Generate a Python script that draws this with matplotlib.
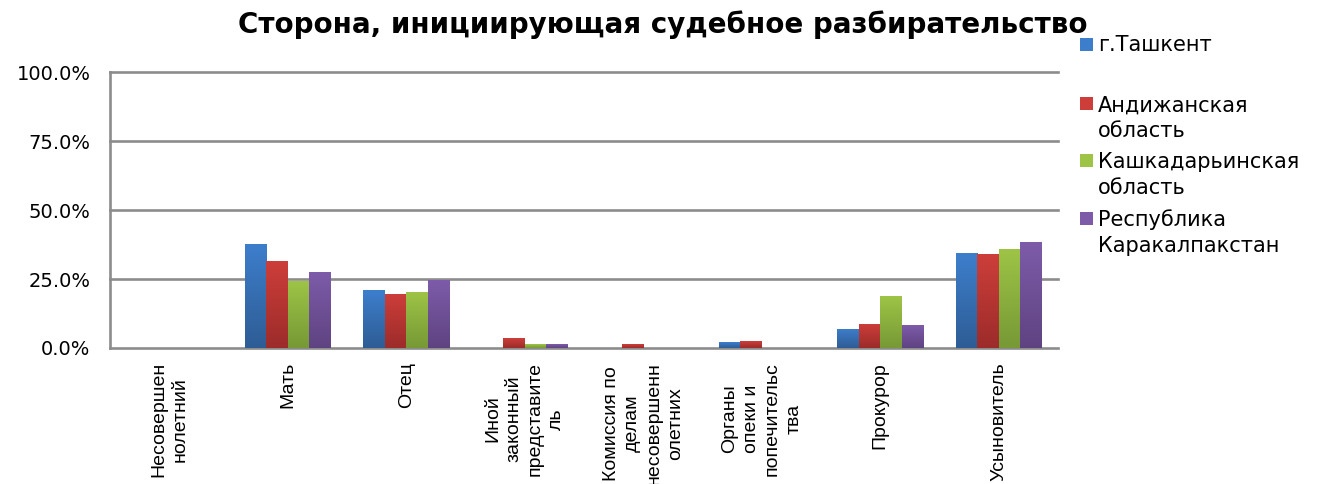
import matplotlib.pyplot as plt
import numpy as np
from matplotlib.colors import LinearSegmentedColormap
from matplotlib.patches import Rectangle

# categories (x axis) and regions (series)
categories = ["Несовершен\nнолетний", "Мать", "Отец",
              "Иной\nзаконный\nпредставите\nль",
              "Комиссия по\nделам\nнесовершенн\nолетних",
              "Органы\nопеки и\nпопечительс\nтва",
              "Прокурор", "Усыновитель"]
regions = ["г.Ташкент", "Андижанская\nобласть",
           "Кашкадарьинская\nобласть", "Республика\nКаракалпакстан"]

tashkent    = [0.0, 37.7, 21.0, 0.0, 0.0, 2.1, 6.9, 34.4]
andijan     = [0.0, 31.5, 19.6, 3.6, 1.4, 2.5, 8.7, 34.1]
kashkadarya = [0.0, 24.3, 20.3, 1.4, 0.0, 0.0, 18.8, 35.9]
karakalpak  = [0.0, 27.5, 24.6, 1.4, 0.0, 0.0, 8.3, 38.4]

yticks = [0, 25, 50, 75, 100]
title = "Сторона, инициирующая судебное разбирательство"

# (top colour, bottom colour) of each series gradient
GRADS = [("#3D7ECC", "#2E5D95"),
         ("#CD3E3A", "#9C2C2A"),
         ("#9EC446", "#779936"),
         ("#7D5BA9", "#5F4381")]
GRID = "#8C8C8C"


def main():
	series = [tashkent, andijan, kashkadarya, karakalpak]

	fig = plt.figure(figsize=(13.17, 4.84), dpi=100, facecolor='w')
	ax = fig.add_axes([0.0835, 0.281, 0.7198, 0.570])

	x = np.arange(len(categories))
	width = 0.182
	grad = np.linspace(1, 0, 64).reshape(-1, 1)
	for i, vals in enumerate(series):
		top, bottom = GRADS[i]
		cmap = LinearSegmentedColormap.from_list(f"g{i}", [bottom, top])
		bars = ax.bar(x + (i - 1.5) * width, vals, width, color=top, lw=0, zorder=3)
		for bar in bars:
			h = bar.get_height()
			if h <= 0:
				continue
			x0 = bar.get_x()
			im = ax.imshow(grad, cmap=cmap, aspect='auto', zorder=4,
			               extent=(x0, x0 + bar.get_width(), 0, h), interpolation='bilinear')
			im.set_clip_path(bar)

	ax.set_xlim(-0.5, len(categories) - 0.5)
	ax.set_ylim(0, 100)
	ax.set_yticks(yticks)
	ax.set_yticklabels([f"{v:.1f}%" for v in yticks], fontsize=14, family='DejaVu Sans')
	ax.tick_params(axis='y', length=0, pad=14)
	ax.set_xticks(x)
	ax.set_xticklabels(categories, rotation=90, va='top', ha='center', ma='center',
	                   fontsize=14, family='Liberation Sans', linespacing=1.33)
	ax.tick_params(axis='x', length=0, pad=10)

	for yv in yticks:
		ax.axhline(yv, color=GRID, lw=1.9, zorder=2, clip_on=False)
	for spine in ('top', 'right', 'bottom'):
		ax.spines[spine].set_visible(False)
	ax.spines['left'].set_color(GRID)
	ax.spines['left'].set_linewidth(1.9)

	fig.text(0.503, 1 - 25 / 484, title, ha='center', va='center',
	         fontsize=20, fontweight='bold', family='DejaVu Sans')

	# legend, drawn by hand to copy the uneven spacing
	# (first-line baseline, last-line baseline) in pixels from the top
	baselines = [(51, 51), (110, 137), (167, 194), (225, 252)]
	for i, name in enumerate(regions):
		first, last = baselines[i]
		yc = 1 - (first - 7) / 484
		fig.patches.append(Rectangle((1080 / 1317, yc - 6.5 / 484), 13 / 1317, 13 / 484,
		                             transform=fig.transFigure, facecolor=GRADS[i][0],
		                             edgecolor='none'))
		fig.text(1098 / 1317, 1 - last / 484, name, ha='left', va='baseline',
		         fontsize=15, family='DejaVu Sans', linespacing=1.35)

	plt.savefig("out.png", dpi=100)


if __name__ == '__main__':
	main()
